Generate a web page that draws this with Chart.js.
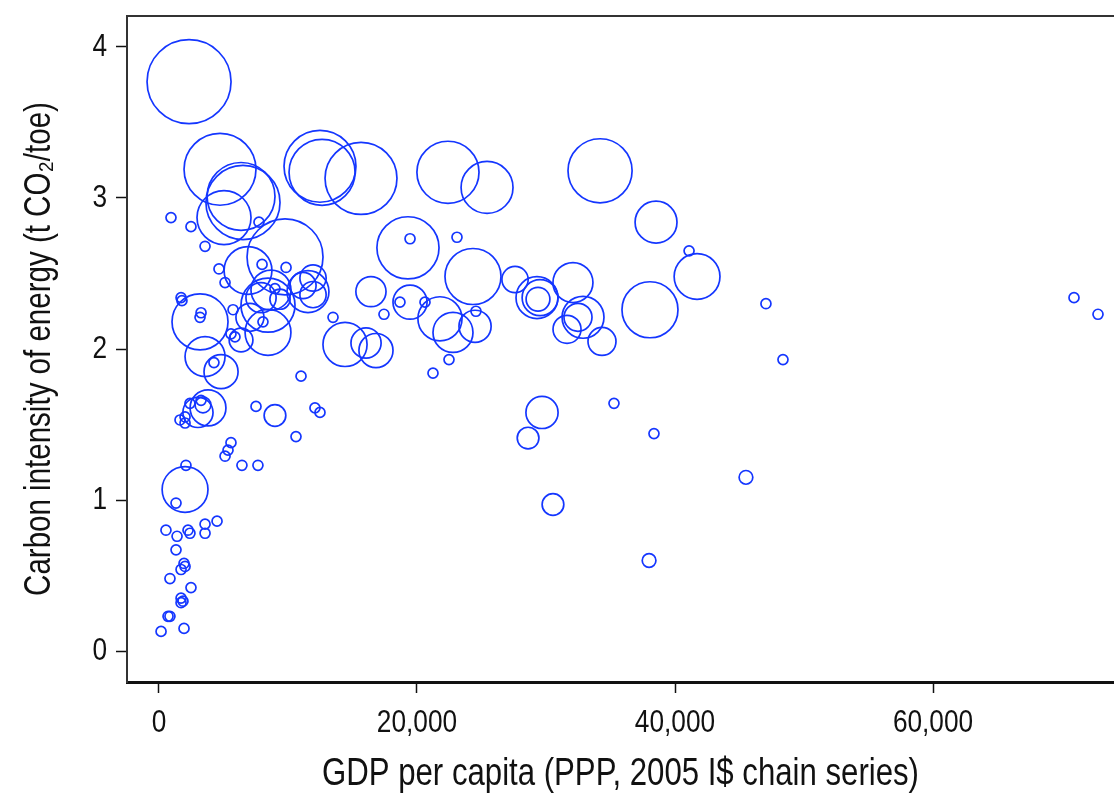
<!DOCTYPE html>
<html>
<head>
<meta charset="utf-8">
<title>Carbon intensity vs GDP per capita</title>
<script src="https://cdn.jsdelivr.net/npm/chart.js"></script>
<style>
  html, body { margin: 0; padding: 0; background: #fff; }
  #chart { display: block; }
</style>
</head>
<body>
<canvas id="chart" width="1114" height="798"></canvas>
<script>
// GDP per capita (PPP, 2005 I$) - one entry per country
const gdpPerCapita = [
    2330, 4730, 6360, 6510, 5040, 9770, 6900, 12480, 12640, 15660,
    22400, 25430, 34190, 38530, 41710, 38060, 24340, 19300, 3180, 3570,
    4810, 3800, 3020, 3410, 2020, 8990, 14420, 16050, 16820, 16430,
    19460, 21780, 22790, 24500, 27600, 29300, 29540, 29380, 32090, 32870,
    32480, 31630, 34340, 29690, 28610, 30540, 45500, 37990, 11550, 8450,
    8680, 7910, 8450, 11940, 11160, 11940, 7050, 6360, 9380,
    // small emitters
    930, 2480, 3570, 4650, 5120, 1710, 1780, 3260, 3180, 7750,
    7990, 9850, 8990, 8060, 5740, 5580, 5890, 13490, 17440, 18680,
    20620, 19460, 23100, 22480, 21240, 11010, 4260, 2400, 3260, 1630,
    2020, 2020, 7520, 12090, 12480, 10620, 5580, 5350, 5120, 6430,
    7670, 2090, 1320, 540, 1400, 2250, 2400, 3570, 3570, 4500,
    1320, 1940, 2020, 1710, 850, 2480, 1710, 1710, 1860, 700,
    850, 160, 1940, 35270, 38370, 41090, 47050, 48370, 70930, 72790,
    24570
];

// Carbon intensity of energy (t CO2 / toe)
const carbonIntensity = [
    3.77, 3.19, 3.01, 2.97, 2.87, 2.61, 2.52, 3.21, 3.17, 3.13,
    3.17, 3.07, 3.18, 2.84, 2.48, 2.26, 2.48, 2.67, 2.18, 1.95,
    1.85, 1.61, 1.58, 1.63, 1.07, 1.56, 2.03, 2.04, 1.99, 2.38,
    2.31, 2.20, 2.11, 2.15, 2.46, 2.34, 2.34, 2.33, 2.44, 2.21,
    2.21, 2.13, 2.05, 1.58, 1.41, 0.97, 1.15, 0.60, 2.38, 2.29,
    2.39, 2.34, 2.11, 2.36, 2.42, 2.47, 2.21, 2.06, 2.33,
    2.87, 2.81, 2.68, 2.53, 2.44, 2.34, 2.32, 2.24, 2.21, 2.84,
    2.56, 2.54, 2.40, 2.18, 2.26, 2.10, 2.08, 2.21, 2.23, 2.31,
    2.31, 2.73, 2.74, 1.93, 1.84, 1.82, 1.91, 1.64, 1.66, 1.53,
    1.51, 1.55, 1.62, 1.61, 1.58, 1.42, 1.38, 1.33, 1.29, 1.23,
    1.23, 1.23, 0.98, 0.80, 0.76, 0.80, 0.78, 0.84, 0.78, 0.86,
    0.67, 0.58, 0.56, 0.54, 0.48, 0.42, 0.35, 0.32, 0.33, 0.23,
    0.23, 0.13, 0.15, 1.64, 1.44, 2.65, 2.30, 1.93, 2.34, 2.23,
    2.25
];

// Energy use (relative weight, sets bubble area)
const energyUse = [
    225, 165, 147, 175, 93, 184, 73, 165, 139, 165,
    123, 86, 131, 56, 67, 100, 100, 123, 100, 51,
    37, 41, 29, 8, 67, 15, 62, 29, 37, 29,
    37, 62, 51, 33, 22, 56, 41, 18, 51, 56,
    25, 25, 25, 33, 15, 15, 6, 6, 56, 93,
    51, 29, 67, 22, 22, 22, 25, 18, 13,
    3, 3, 3, 3, 3, 3, 3, 3, 3, 3,
    3, 3, 3, 3, 3, 3, 3, 3, 3, 3,
    3, 3, 3, 3, 3, 3, 3, 3, 3, 3,
    3, 3, 3, 3, 3, 3, 3, 3, 3, 3,
    3, 3, 3, 3, 3, 3, 3, 3, 3, 3,
    3, 3, 3, 3, 3, 3, 3, 3, 3, 3,
    3, 3, 3, 3, 3, 3, 3, 3, 3, 3,
    3
];

const xTicks = [0, 20000, 40000, 60000];
const yTicks = [0, 1, 2, 3, 4];

const X_TITLE = 'GDP per capita (PPP, 2005 I$ chain series)';
const Y_TITLE = 'Carbon intensity of energy (t CO\u2082/toe)';

const FONT_FAMILY = '"Liberation Sans", Arial, sans-serif';
const TEXT_CONDENSE = 0.82;   // the original uses a narrow face
const MARKER_COLOR = '#1436ff';

const bubbleRadius = (w) => Math.max(5, 2.8 * Math.sqrt(w));

const points = gdpPerCapita.map((x, i) => ({
    x: x,
    y: carbonIntensity[i],
    r: bubbleRadius(energyUse[i])
}));

const canvas = document.getElementById('chart');
const ctx = canvas.getContext('2d');

// squeeze every label horizontally around its anchor point
const nativeFillText = ctx.fillText;
ctx.fillText = function (text, x, y) {
    this.save();
    this.translate(x, y);
    this.scale(TEXT_CONDENSE, 1);
    nativeFillText.call(this, text, 0, 0);
    this.restore();
};

// white background + top frame line (the plot box is open on the right)
const frameTop = {
    id: 'frameTop',
    beforeDraw(chart) {
        const { ctx, chartArea } = chart;
        ctx.save();
        ctx.fillStyle = '#fff';
        ctx.fillRect(0, 0, chart.width, chart.height);
        ctx.strokeStyle = '#333';
        ctx.lineWidth = 2;
        ctx.beginPath();
        ctx.moveTo(chartArea.left - 1, chartArea.top);
        ctx.lineTo(chartArea.right, chartArea.top);
        ctx.stroke();
        ctx.restore();
    }
};

const tickFont = { family: FONT_FAMILY, size: 32 };

new Chart(ctx, {
    type: 'bubble',
    data: {
        datasets: [{
            data: points,
            backgroundColor: 'rgba(0,0,0,0)',
            borderColor: MARKER_COLOR,
            borderWidth: 1.7,
            clip: false
        }]
    },
    options: {
        responsive: false,
        animation: false,
        devicePixelRatio: 1,
        layout: { autoPadding: false, padding: { top: 16, right: 0, bottom: 0, left: 0 } },
        plugins: {
            legend: { display: false },
            tooltip: { enabled: false }
        },
        scales: {
            x: {
                type: 'linear',
                position: 'bottom',
                min: -2480,
                max: 74030,
                afterBuildTicks: (axis) => { axis.ticks = xTicks.map(v => ({ value: v })); },
                afterFit: (axis) => {
                    axis.height = 116;
                    axis.paddingLeft = 0;
                    axis.paddingRight = 0;
                },
                grid: {
                    drawOnChartArea: false,
                    drawTicks: true,
                    tickLength: 11,
                    tickWidth: 1.5,
                    tickColor: '#111'
                },
                border: { display: true, color: '#111', width: 3 },
                ticks: {
                    color: '#111',
                    font: tickFont,
                    padding: 11,
                    maxRotation: 0,
                    callback: (v) => v.toLocaleString('en-US')
                },
                title: {
                    display: true,
                    text: X_TITLE,
                    color: '#111',
                    font: { family: FONT_FAMILY, size: 38 },
                    padding: { top: 0, bottom: 1 }
                }
            },
            y: {
                type: 'linear',
                min: -0.205,
                max: 4.205,
                afterBuildTicks: (axis) => { axis.ticks = yTicks.map(v => ({ value: v })); },
                afterFit: (axis) => {
                    axis.width = 127;
                    axis.paddingTop = 0;
                    axis.paddingBottom = 0;
                },
                grid: {
                    drawOnChartArea: false,
                    drawTicks: true,
                    tickLength: 11,
                    tickWidth: 1.5,
                    tickColor: '#111'
                },
                border: { display: true, color: '#333', width: 2 },
                ticks: {
                    color: '#111',
                    font: tickFont,
                    padding: 9
                },
                title: {
                    display: true,
                    text: Y_TITLE,
                    color: '#111',
                    font: { family: FONT_FAMILY, size: 36 },
                    padding: { top: 18, bottom: 0 }
                }
            }
        }
    },
    plugins: [frameTop]
});
</script>
</body>
</html>
